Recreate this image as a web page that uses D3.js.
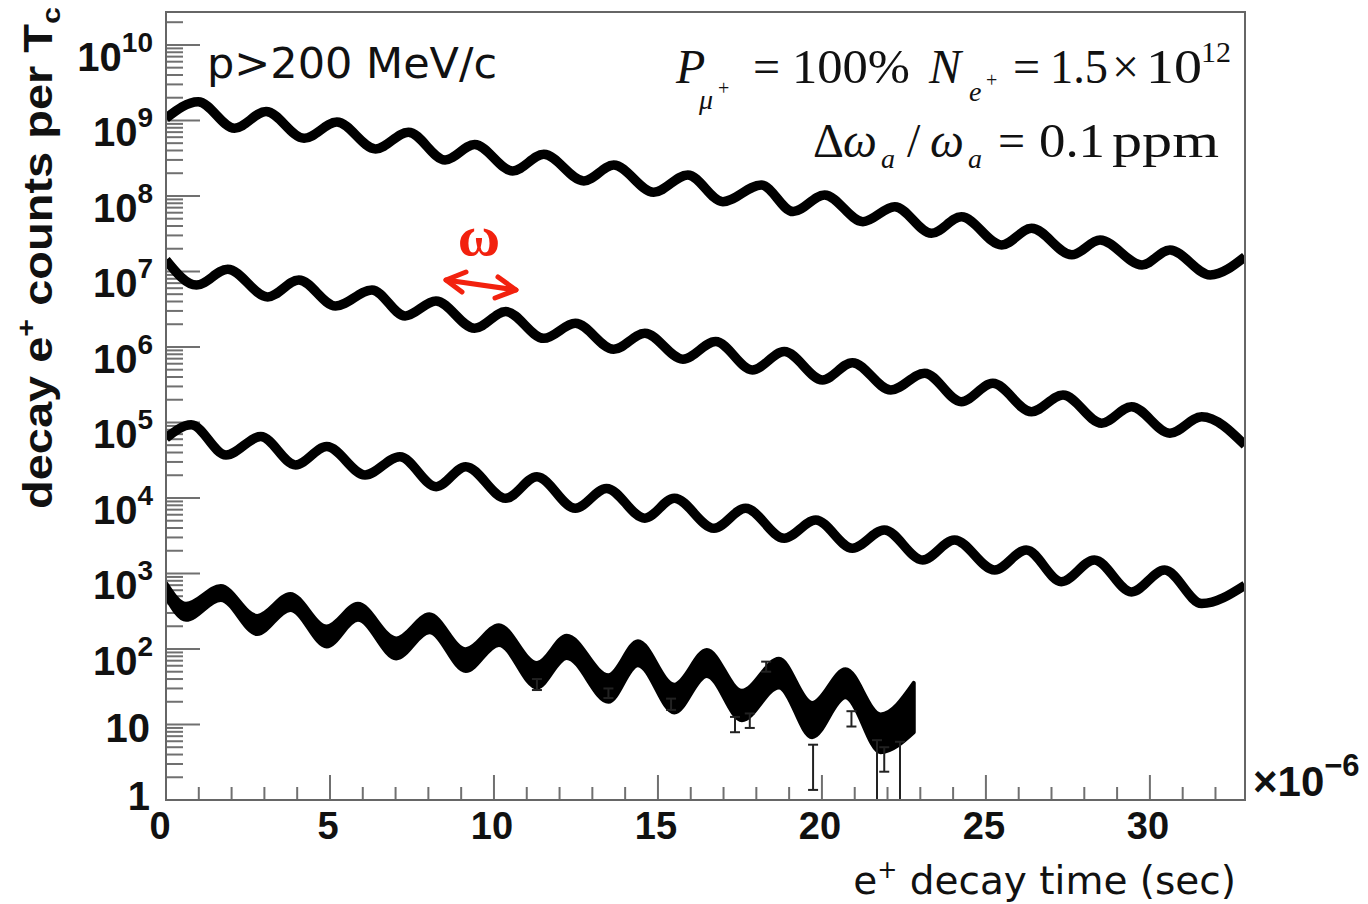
<!DOCTYPE html>
<html>
<head>
<meta charset="utf-8">
<script src="https://cdn.jsdelivr.net/npm/d3@7"></script>
<style>
body { margin: 0; background: #fff; }
svg { display: block; }
</style>
</head>
<body>
<script>
// decay e+ counts, read at the peaks / troughs of each wiggle [t (us), counts]
var series1 = [[0,1.07e9],[0.98,1.77e9],[2.09,7.9e8],[3.05,1.31e9],[4.21,5.8e8],[5.21,9.5e8],[6.39,4.2e8],[7.39,7.0e8],
  [8.51,3.0e8],[9.41,4.8e8],[10.57,2.14e8],[11.52,3.56e8],[12.74,1.58e8],[13.65,2.57e8],[14.87,1.12e8],[15.91,1.90e8],
  [16.98,8.4e7],[18.15,1.40e8],[19.12,6.2e7],[20.08,1.03e8],[21.25,4.57e7],[22.22,7.2e7],[23.34,3.2e7],[24.25,5.3e7],
  [25.48,2.24e7],[26.39,3.73e7],[27.62,1.66e7],[28.48,2.61e7],[29.76,1.22e7],[30.61,1.93e7],[31.84,9.0e6],[32.9,1.57e7]];
var series2 = [[0,1.42e7],[0.93,6.6e6],[1.88,1.07e7],[3.10,4.6e6],[4.05,7.7e6],[5.17,3.49e6],[6.28,5.7e6],[7.29,2.58e6],
  [8.23,4.06e6],[9.41,1.77e6],[10.36,2.94e6],[11.52,1.30e6],[12.48,2.06e6],[13.65,9.3e5],[14.60,1.52e6],[15.76,6.9e5],
  [16.76,1.18e6],[17.88,4.96e5],[18.85,8.7e5],[20.02,3.66e5],[20.93,6.2e5],[22.10,2.69e5],[23.13,4.5e5],[24.25,1.88e5],
  [25.21,3.3e5],[26.39,1.39e5],[27.35,2.31e5],[28.53,9.8e4],[29.44,1.62e5],[30.61,7.2e4],[31.58,1.19e5],[32.9,5.0e4]];
var series3 = [[0,6.2e4],[0.77,9.3e4],[1.83,3.7e4],[2.89,6.5e4],[3.95,2.74e4],[4.90,4.8e4],[6.07,2.02e4],[7.13,3.52e4],
  [8.24,1.41e4],[9.14,2.60e4],[10.36,9.9e3],[11.31,1.91e4],[12.48,7.3e3],[13.43,1.34e4],[14.60,5.4e3],[15.50,9.9e3],
  [16.71,3.97e3],[17.67,7.3e3],[18.85,2.93e3],[19.81,5.1e3],[20.93,2.16e3],[21.90,3.77e3],[23.07,1.51e3],[24.04,2.78e3],
  [25.27,1.11e3],[26.23,2.05e3],[27.30,780],[28.31,1.51e3],[29.44,570],[30.45,1.11e3],[31.58,400],[32.9,700]];
// low statistics set: [t, lower edge, upper edge] of the noisy band
var series4 = [[0,484,744],[0.61,243,396],[1.67,444,682],[2.78,158,274],[3.79,329,536],[4.90,108,198],[5.85,243,396],
  [7.02,75,138],[8.03,166,288],[9.14,51,99],[10.15,113,207],[11.31,31,65],[12.22,76,150],[13.49,20,45],[14.39,61,127],
  [15.50,14.4,33.7],[16.49,44,97],[17.56,11.4,28],[18.69,31,74],[19.70,6.8,19.3],[20.72,23,54],[21.79,4.3,13.6],[22.80,7.9,35.5]];
// single error bars sticking out of the band [t, low, high]
var errorBars = [[11.31,28.6,40],[13.49,22.4,30],[15.4,15.6,22],[17.35,7.9,12.6],[17.8,9.0,14],[18.3,50,68],
  [19.73,1.36,5.4],[20.9,9.4,15],[21.68,1,6.2],[21.9,2.37,5],[22.38,1,5.9]];

var xLabels = [0, 5, 10, 15, 20, 25, 30];
var yDecades = [0, 1, 2, 3, 4, 5, 6, 7, 8, 9, 10];

var width = 1368, height = 904;
var frameL = 166, frameR = 1245, frameT = 12, frameB = 800;

var svg = d3.select('body').append('svg')
  .attr('width', width)
  .attr('height', height);

var x = d3.scaleLinear().domain([0, 32.9]).range([frameL, frameR]);
var y = d3.scaleLog().domain([1, 2.73e10]).range([frameB, frameT]);

svg.append('clipPath').attr('id', 'frame')
  .append('rect')
    .attr('x', frameL).attr('y', frameT)
    .attr('width', frameR - frameL).attr('height', frameB - frameT);

// ticks (ROOT style, inside the frame)
var tickColor = '#707070';
var yt = y.ticks(30);
svg.append('g').selectAll('line')
  .data(yt)
  .enter().append('line')
    .attr('x1', frameL)
    .attr('x2', function(d) {
      var m = Math.round(d / Math.pow(10, Math.floor(Math.log10(d) + 1e-9)));
      return frameL + (m == 1 ? 34 : 17);
    })
    .attr('y1', function(d) { return y(d); })
    .attr('y2', function(d) { return y(d); })
    .attr('stroke', tickColor)
    .attr('stroke-width', 2);

var xt = x.ticks(33);
svg.append('g').selectAll('line')
  .data(xt)
  .enter().append('line')
    .attr('x1', function(d) { return x(d); })
    .attr('x2', function(d) { return x(d); })
    .attr('y1', frameB)
    .attr('y2', function(d) { return frameB - (d % 5 == 0 ? 25 : 13); })
    .attr('stroke', tickColor)
    .attr('stroke-width', 2);

// curves
var plot = svg.append('g').attr('clip-path', 'url(#frame)');
var line = d3.line()
  .x(function(d) { return x(d[0]); })
  .y(function(d) { return y(d[1]); })
  .curve(d3.curveMonotoneX);

[series1, series2, series3].forEach(function(s) {
  plot.append('path')
    .attr('d', line(s))
    .attr('fill', 'none')
    .attr('stroke', '#000')
    .attr('stroke-width', 9.5)
    .attr('stroke-linejoin', 'round');
});

var band = d3.area()
  .x(function(d) { return x(d[0]); })
  .y0(function(d) { return y(d[1]); })
  .y1(function(d) { return y(d[2]); })
  .curve(d3.curveMonotoneX);
plot.append('path')
  .attr('d', band(series4))
  .attr('fill', '#000')
  .attr('stroke', '#000')
  .attr('stroke-width', 4)
  .attr('stroke-linejoin', 'round');

var eb = plot.append('g').attr('stroke', '#222').attr('stroke-width', 2);
errorBars.forEach(function(d) {
  eb.append('line')
    .attr('x1', x(d[0])).attr('x2', x(d[0]))
    .attr('y1', y(d[1])).attr('y2', y(d[2]));
  [d[1], d[2]].forEach(function(v) {
    eb.append('line')
      .attr('x1', x(d[0]) - 5).attr('x2', x(d[0]) + 5)
      .attr('y1', y(v)).attr('y2', y(v));
  });
});

// frame
svg.append('rect')
  .attr('x', frameL).attr('y', frameT)
  .attr('width', frameR - frameL).attr('height', frameB - frameT)
  .attr('fill', 'none')
  .attr('stroke', '#666')
  .attr('stroke-width', 2);

// axis labels
var sans = '"Liberation Sans", Arial, Helvetica, sans-serif';
var ylab = svg.append('g')
  .attr('font-family', sans)
  .attr('font-weight', 'bold')
  .attr('fill', '#111');
yDecades.forEach(function(d) {
  var v = Math.pow(10, d);
  var t = ylab.append('text')
    .attr('text-anchor', 'end')
    .attr('font-size', 40);
  if (d == 0) {
    t.attr('x', 150).attr('y', y(v) + 10).text('1');
  } else if (d == 1) {
    t.attr('x', 150).attr('y', y(v) + 18).text('10');
  } else {
    t.attr('x', 153).attr('y', y(v) + 26);
    t.append('tspan').text('10');
    t.append('tspan').attr('font-size', 28).attr('dy', -19).text(d);
  }
});

svg.append('g')
  .attr('font-family', sans)
  .attr('font-weight', 'bold')
  .attr('font-size', 38)
  .attr('fill', '#111')
  .selectAll('text')
  .data(xLabels)
  .enter().append('text')
    .attr('text-anchor', 'middle')
    .attr('x', function(d) { return d == 0 ? x(d) - 6 : x(d) - 2; })
    .attr('y', 839)
    .text(function(d) { return d; });

var exp = svg.append('text')
  .attr('font-family', sans)
  .attr('font-weight', 'bold')
  .attr('font-size', 42)
  .attr('fill', '#111')
  .attr('x', 1253).attr('y', 796);
exp.append('tspan').text('\u00d710');
exp.append('tspan').attr('font-size', 31).attr('dy', -20).text('\u22126');

// y title
var ytitle = svg.append('text')
  .attr('font-family', sans)
  .attr('font-weight', 'bold')
  .attr('font-size', 40)
  .attr('fill', '#111')
  .attr('text-anchor', 'middle')
  .attr('textLength', 502)
  .attr('lengthAdjust', 'spacingAndGlyphs')
  .attr('transform', 'translate(52,258) rotate(-90)');
ytitle.append('tspan').text('decay e');
ytitle.append('tspan').attr('font-size', 26).attr('dy', -17).text('+');
ytitle.append('tspan').attr('dy', 17).text(' counts per T');
ytitle.append('tspan').attr('font-size', 26).attr('dy', 8).text('c');

// x title
var dv = '"DejaVu Sans", Verdana, sans-serif';
var xtitle = svg.append('text')
  .attr('font-family', dv)
  .attr('font-size', 39)
  .attr('fill', '#111')
  .attr('text-anchor', 'end')
  .attr('x', 1236).attr('y', 894);
xtitle.append('tspan').text('e');
xtitle.append('tspan').attr('font-size', 24).attr('dy', -16).text('+');
xtitle.append('tspan').attr('dy', 16).text(' decay time (sec)');

svg.append('text')
  .attr('font-family', dv)
  .attr('font-size', 43)
  .attr('fill', '#111')
  .attr('x', 207).attr('y', 78)
  .text('p>200 MeV/c');

// formula box, top right
var serif = '"Liberation Serif", "Times New Roman", serif';
var fg = svg.append('g').attr('font-family', serif).attr('fill', '#111');
function piece(txt, px, py, size, italic, len) {
  var t = fg.append('text')
    .attr('x', px).attr('y', py)
    .attr('font-size', size)
    .attr('font-style', italic ? 'italic' : 'normal')
    .text(txt);
  if (len) t.attr('textLength', len).attr('lengthAdjust', 'spacingAndGlyphs');
  return t;
}
piece('P', 676, 83, 48, true);
piece('\u03bc', 699, 109, 28, true);
piece('+', 718, 95, 20, false);
piece('=', 753, 83, 48, false);
piece('100%', 792, 83, 48, false, 118);
piece('N', 929, 83, 48, true);
piece('e', 969, 101, 28, true);
piece('+', 986, 87, 20, false);
piece('=', 1013, 83, 48, false);
piece('1.5', 1050, 83, 48, false, 58);
piece('\u00d7', 1112, 83, 48, false);
piece('10', 1146, 83, 48, false, 56);
piece('12', 1201, 62, 30, false);

piece('\u0394', 813, 157, 48, false);
piece('\u03c9', 843, 157, 48, true);
piece('a', 881, 168, 28, true);
piece('/', 907, 157, 48, false);
piece('\u03c9', 930, 157, 48, true);
piece('a', 968, 168, 28, true);
piece('=', 998, 157, 48, false);
piece('0.1', 1039, 157, 48, false, 66);
piece('ppm', 1112, 157, 48, false, 107);

// omega marker
var red = '#f2210e';
svg.append('text')
  .attr('font-family', serif)
  .attr('font-weight', 'bold')
  .attr('font-size', 58)
  .attr('fill', red)
  .attr('text-anchor', 'middle')
  .attr('x', 479).attr('y', 255)
  .text('\u03c9');
var arrow = svg.append('g')
  .attr('stroke', red)
  .attr('stroke-width', 5)
  .attr('stroke-linecap', 'round')
  .attr('stroke-linejoin', 'round')
  .attr('fill', 'none');
arrow.append('path').attr('d', 'M446,280L516,290');
arrow.append('path').attr('d', 'M466,272L446,280L462,292');
arrow.append('path').attr('d', 'M498,277L516,290L495,298');
</script>
</body>
</html>
